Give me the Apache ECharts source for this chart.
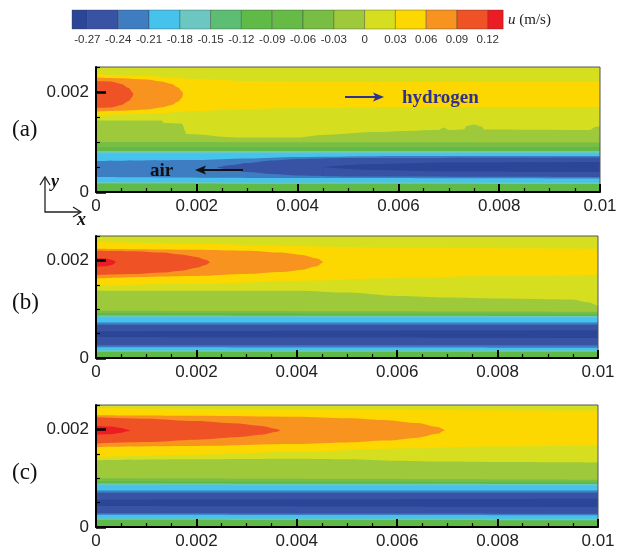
<!DOCTYPE html>
<html><head><meta charset="utf-8">
<script src="https://cdn.jsdelivr.net/npm/echarts@6/dist/echarts.min.js"></script>
<style>html,body{margin:0;padding:0;background:#fff}#c{width:618px;height:549px}</style>
</head><body><div id="c"></div>
<script>
// ---- colour levels of u (m/s) ----
const LEVEL_COLORS = ['#2b4597','#3852a4','#3e7dc2','#46c3ec','#6bc7bf','#5dbd73','#60ba48',
  '#66bb46','#78be44','#9dc93b','#d5df1f','#fcd700','#f7931e','#ef5224','#ec1c24'];
const CB_EDGES = [-0.285,-0.27,-0.24,-0.21,-0.18,-0.15,-0.12,-0.09,-0.06,-0.03,0,0.03,0.06,0.09,0.12,0.135];

// ---- contour-band boundaries (top edge of each region), [x (m), y (m)] ----
const FULL = [[0,0.0025],[0.01,0.0025]];
// panel (a)
const A_YEL_TOP = [[0,0.00236],[0.001,0.00232],[0.002,0.00226],[0.003,0.00222],[0.004,0.0022],[0.01,0.0022]];
const A_ORA_TOP = [[0,0.00229],[0.0005,0.002275],[0.001,0.00225],[0.0013,0.00221],[0.0015,0.00216],[0.00163,0.00209],[0.0017,0.00202],[0.00173,0.00195]];
const A_RED_TOP = [[0,0.00222],[0.0003,0.00221],[0.0005,0.00216],[0.00065,0.00208],[0.00072,0.002],[0.00074,0.00195]];
const A_RED_BOT = [[0,0.00168],[0.0003,0.00169],[0.0005,0.00174],[0.00065,0.00182],[0.00072,0.0019],[0.00074,0.00195],[0.00078,0.00197]];
const A_ORA_BOT = [[0,0.00161],[0.0005,0.001625],[0.001,0.00165],[0.0013,0.00169],[0.0015,0.00174],[0.00163,0.00181],[0.0017,0.00188],[0.00173,0.00195],[0.00177,0.00197]];
const A_YEL_BOT = [[0,0.00154],[0.001,0.00156],[0.002,0.00162],[0.003,0.00166],[0.004,0.00168],[0.006,0.0017],[0.01,0.0017]];
const A_LIME_BOT = [[0,0.00143],[0.0013,0.00143],[0.00135,0.00138],[0.0017,0.00137],[0.0018,0.00116],[0.0028,0.00109],[0.004,0.00109],[0.0045,0.00114],[0.0055,0.0012],[0.0068,0.00124],[0.0069,0.00129],[0.007,0.00124],[0.0073,0.00125],[0.00735,0.00132],[0.0075,0.00135],[0.00765,0.00131],[0.0077,0.00125],[0.0098,0.00124],[0.0099,0.0013],[0.01,0.00132]];
const A_YG_BOT = [[0,0.001],[0.01,0.00099]];
const A_G8_BOT = [[0,0.0009],[0.01,0.0009]];
const A_G6_BOT = [[0,0.00082],[0.01,0.00082]];
const A_TEAL_BOT = [[0,0.00077],[0.01,0.00078]];
const A_CYAN_BOT = [[0,0.00062],[0.002,0.00064],[0.003,0.00067],[0.004,0.0007],[0.006,0.00072],[0.01,0.00072]];
const A_DARK_TOP = [[0.0024,0.00049],[0.0027,0.00054],[0.003,0.00058],[0.0035,0.00063],[0.004,0.00066],[0.005,0.00068],[0.01,0.00069]];
const A_CORE_TOP = [[0.0045,0.0005],[0.0055,0.00056],[0.007,0.00059],[0.01,0.0006]];
const A_CORE_BOT = [[0.0045,0.0005],[0.0055,0.00044],[0.007,0.00041],[0.01,0.0004]];
const A_DARK_BOT = [[0.0024,0.00049],[0.0027,0.00044],[0.003,0.0004],[0.0035,0.00036],[0.004,0.00033],[0.005,0.00031],[0.01,0.0003]];
const A_BLUE_BOT = [[0,0.0003],[0.004,0.00028],[0.01,0.00027]];
const A_CYAN2_BOT = [[0,0.0002],[0.01,0.00019]];
const A_TEAL2_BOT = [[0,0.00017],[0.01,0.00016]];
// panel (b)
const B_YEL_TOP = [[0,0.00238],[0.002,0.00234],[0.004,0.00229],[0.006,0.00226],[0.01,0.00224]];
const B_ORA_TOP = [[0,0.00224],[0.002,0.00222],[0.003,0.0022],[0.0037,0.00216],[0.0041,0.00211],[0.0044,0.00204],[0.00453,0.00196]];
const B_RED_TOP = [[0,0.0022],[0.0008,0.00219],[0.0013,0.00216],[0.0017,0.00212],[0.002,0.00207],[0.0022,0.00201],[0.00227,0.00196]];
const B_HOT_TOP = [[0,0.00205],[0.0002,0.00204],[0.00033,0.00201],[0.0004,0.00196]];
const B_HOT_BOT = [[0,0.00187],[0.0002,0.00188],[0.00033,0.00191],[0.0004,0.00196],[0.00044,0.00198]];
const B_RED_BOT = [[0,0.0017],[0.0008,0.00172],[0.0013,0.00175],[0.0017,0.00179],[0.002,0.00185],[0.0022,0.00191],[0.00227,0.00196],[0.00231,0.00198]];
const B_ORA_BOT = [[0,0.00163],[0.002,0.00168],[0.003,0.00172],[0.0037,0.00176],[0.0041,0.00181],[0.0044,0.00188],[0.00453,0.00196],[0.00457,0.00198]];
const B_YEL_BOT = [[0,0.00148],[0.002,0.00152],[0.004,0.00158],[0.006,0.00164],[0.008,0.00168],[0.01,0.0017]];
const B_LIME_BOT = [[0,0.00138],[0.004,0.00138],[0.005,0.00134],[0.006,0.00127],[0.007,0.00124],[0.008,0.00122],[0.0095,0.0012],[0.0098,0.00114],[0.01,0.00106]];
const B_YG_BOT = [[0,0.00097],[0.01,0.00095]];
const B_G8_BOT = [[0,0.00092],[0.01,0.0009]];
const B_G6_BOT = [[0,0.00087],[0.01,0.00086]];
const B_TEAL_BOT = [[0,0.00084],[0.01,0.00083]];
const B_CYAN_BOT = [[0,0.00073],[0.01,0.00073]];
const B_BLUE_BOT = [[0,0.00068],[0.01,0.00068]];
const B_CORE_TOP = [[0,0.00055],[0.01,0.00057]];
const B_CORE_BOT = [[0,0.00043],[0.01,0.00041]];
const B_DARK_BOT = [[0,0.00026],[0.01,0.00026]];
const B_BLUE2_BOT = [[0,0.00022],[0.01,0.00021]];
const B_CYAN2_BOT = [[0,0.00016],[0.01,0.00016]];
const B_TEAL2_BOT = [[0,0.00013],[0.01,0.00013]];
// panel (c)
const C_YEL_TOP = [[0,0.00244],[0.004,0.00241],[0.01,0.00238]];
const C_ORA_TOP = [[0,0.00229],[0.002,0.00228],[0.004,0.00226],[0.005,0.00223],[0.0058,0.00219],[0.0064,0.00213],[0.0068,0.00205],[0.00695,0.00198]];
const C_RED_TOP = [[0,0.00225],[0.001,0.00222],[0.002,0.00217],[0.0028,0.00212],[0.0033,0.00207],[0.0036,0.00201],[0.00367,0.00198]];
const C_HOT_TOP = [[0,0.00207],[0.0003,0.00206],[0.0005,0.00203],[0.00062,0.002],[0.00068,0.00198]];
const C_HOT_BOT = [[0,0.00189],[0.0003,0.0019],[0.0005,0.00193],[0.00062,0.00196],[0.00068,0.00198],[0.00072,0.002]];
const C_RED_BOT = [[0,0.00171],[0.001,0.00174],[0.002,0.00179],[0.0028,0.00184],[0.0033,0.00189],[0.0036,0.00195],[0.00367,0.00198],[0.00371,0.002]];
const C_ORA_BOT = [[0,0.00164],[0.002,0.00166],[0.004,0.0017],[0.005,0.00173],[0.0058,0.00177],[0.0064,0.00183],[0.0068,0.00191],[0.00695,0.00198],[0.00699,0.002]];
const C_YEL_BOT = [[0,0.00143],[0.002,0.00148],[0.004,0.00154],[0.006,0.00161],[0.008,0.00165],[0.01,0.00167]];
const C_LIME_BOT = [[0,0.00137],[0.002,0.00139],[0.004,0.0014],[0.005,0.00139],[0.006,0.00136],[0.007,0.00134],[0.008,0.00133],[0.01,0.00132]];
const C_YG_BOT = [[0,0.001],[0.01,0.00097]];
const C_G8_BOT = [[0,0.00094],[0.01,0.00092]];
const C_G6_BOT = [[0,0.00089],[0.01,0.00088]];
const C_TEAL_BOT = [[0,0.00086],[0.01,0.00085]];
const C_CYAN_BOT = [[0,0.00075],[0.01,0.00075]];
const C_BLUE_BOT = [[0,0.0007],[0.01,0.0007]];
const C_CORE_TOP = [[0,0.00056],[0.01,0.00058]];
const C_CORE_BOT = [[0,0.00043],[0.01,0.00041]];
const C_DARK_BOT = [[0,0.00028],[0.01,0.00027]];
const C_BLUE2_BOT = [[0,0.00025],[0.01,0.00024]];
const C_CYAN2_BOT = [[0,0.00018],[0.01,0.00017]];
const C_TEAL2_BOT = [[0,0.00015],[0.01,0.00014]];

// regions painted top-down: [level index, top boundary]
const REGIONS_A = [[10,FULL],[11,A_YEL_TOP],[12,A_ORA_TOP],[13,A_RED_TOP],[12,A_RED_BOT],[11,A_ORA_BOT],[10,A_YEL_BOT],
  [9,A_LIME_BOT],[8,A_YG_BOT],[6,A_G8_BOT],[4,A_G6_BOT],[3,A_TEAL_BOT],[2,A_CYAN_BOT],[1,A_DARK_TOP],[0,A_CORE_TOP],
  [1,A_CORE_BOT],[2,A_DARK_BOT],[3,A_BLUE_BOT],[4,A_CYAN2_BOT],[6,A_TEAL2_BOT]];
const REGIONS_B = [[10,FULL],[11,B_YEL_TOP],[12,B_ORA_TOP],[13,B_RED_TOP],[14,B_HOT_TOP],[13,B_HOT_BOT],[12,B_RED_BOT],
  [11,B_ORA_BOT],[10,B_YEL_BOT],[9,B_LIME_BOT],[8,B_YG_BOT],[6,B_G8_BOT],[4,B_G6_BOT],[3,B_TEAL_BOT],[2,B_CYAN_BOT],
  [1,B_BLUE_BOT],[0,B_CORE_TOP],[1,B_CORE_BOT],[2,B_DARK_BOT],[3,B_BLUE2_BOT],[4,B_CYAN2_BOT],[6,B_TEAL2_BOT]];
const REGIONS_C = [[10,FULL],[11,C_YEL_TOP],[12,C_ORA_TOP],[13,C_RED_TOP],[14,C_HOT_TOP],[13,C_HOT_BOT],[12,C_RED_BOT],
  [11,C_ORA_BOT],[10,C_YEL_BOT],[9,C_LIME_BOT],[8,C_YG_BOT],[6,C_G8_BOT],[4,C_G6_BOT],[3,C_TEAL_BOT],[2,C_CYAN_BOT],
  [1,C_BLUE_BOT],[0,C_CORE_TOP],[1,C_CORE_BOT],[2,C_DARK_BOT],[3,C_BLUE2_BOT],[4,C_CYAN2_BOT],[6,C_TEAL2_BOT]];

const SANS = "'Liberation Sans', Arial, sans-serif";
const SERIF = "'Liberation Serif', 'Times New Roman', serif";

const chart = echarts.init(document.getElementById('c'), null, {renderer:'canvas'});

const panelGrids = [
  {left:96, top:67, width:504, height:125},
  {left:96, top:236, width:502, height:122},
  {left:96, top:405, width:502, height:122}
];
const grids = [{left:56.6, top:10, width:462, height:19, show:false, containLabel:false, outerBoundsMode:'none'}]
  .concat(panelGrids.map(g => Object.assign({show:true, borderColor:'#555', borderWidth:1, z:10,
    containLabel:false, outerBoundsMode:'none'}, g)));

const xAxes = [{
  gridIndex:0, type:'value', min:-0.3, max:0.15, interval:0.03,
  axisLine:{show:false}, axisTick:{show:false}, splitLine:{show:false},
  axisLabel:{showMinLabel:false, showMaxLabel:false, fontSize:11.5, color:'#333', fontFamily:SANS, margin:5,
    formatter: v => String(Math.round(v*100)/100)}
}];
const yAxes = [{gridIndex:0, type:'value', min:0, max:1, show:false}];
panelGrids.forEach((g, i) => {
  xAxes.push({
    gridIndex:i+1, type:'value', position:'bottom', min:0, max:0.01, interval:0.002, z:10,
    axisLine:{show:true, lineStyle:{color:'#000', width:2}},
    axisTick:{show:true, inside:true, length:8, lineStyle:{color:'#000', width:2}},
    minorTick:{show:true, splitNumber:4, length:4, lineStyle:{color:'#000', width:1.2}},
    splitLine:{show:false},
    axisLabel:{fontSize:17, color:'#222', fontFamily:SANS, margin:6,
      formatter: v => String(Math.round(v*1000)/1000)}
  });
  yAxes.push({
    gridIndex:i+1, type:'value', position:'left', min:0, max:0.0025, interval:0.0005, z:10,
    axisLine:{show:true, lineStyle:{color:'#000', width:2}},
    axisTick:{show:true, inside:true, length:4, lineStyle:{color:'#000', width:1.2}},
    splitLine:{show:false}, axisLabel:{show:false}
  });
});
panelGrids.forEach((g, i) => {
  yAxes.push({
    gridIndex:i+1, type:'value', position:'left', offset:0, min:0, max:0.0025, interval:0.002, z:11,
    axisLine:{show:false},
    axisTick:{show:true, inside:true, length:10, lineStyle:{color:'#000', width:2.5}},
    splitLine:{show:false},
    axisLabel:{showMaxLabel:false, fontSize:17, color:'#222', fontFamily:SANS, margin:7,
      formatter: v => String(Math.round(v*1000)/1000)}
  });
});

const series = [];
// colour bar
const cbCells = [];
for (let i = 0; i < CB_EDGES.length - 1; i++) cbCells.push([CB_EDGES[i], CB_EDGES[i+1], i]);
series.push({
  type:'custom', xAxisIndex:0, yAxisIndex:0, silent:true, animation:false,
  data: cbCells,
  renderItem: (params, api) => {
    const p0 = api.coord([api.value(0), 1]);
    const p1 = api.coord([api.value(1), 0]);
    return {type:'rect', shape:{x:p0[0], y:p0[1], width:p1[0]-p0[0], height:p1[1]-p0[1]},
      style:{fill: LEVEL_COLORS[api.value(2)], stroke:'rgba(50,50,60,0.45)', lineWidth:0.8}};
  }
});
[REGIONS_A, REGIONS_B, REGIONS_C].forEach((regions, pi) => {
  regions.forEach(([lvl, pts]) => {
    series.push({
      type:'line', xAxisIndex:pi+1, yAxisIndex:pi+1, data:pts, symbol:'none',
      smooth:0.3, smoothMonotone:'x', silent:true, animation:false, clip:true,
      lineStyle:{width:0, color:LEVEL_COLORS[lvl]},
      itemStyle:{color:LEVEL_COLORS[lvl]},
      areaStyle:{color:LEVEL_COLORS[lvl], opacity:1, origin:'start'},
      z:2
    });
  });
});

const graphic = [
  {type:'text', x:508, y:20, style:{text:'{i|u} (m/s)', font:'15px '+SERIF, fill:'#222', verticalAlign:'middle',
    rich:{i:{fontStyle:'italic', fontFamily:SERIF, fontSize:15, fill:'#222'}}}},
  {type:'text', x:12, y:130, style:{text:'(a)', font:'23px '+SERIF, fill:'#111', verticalAlign:'middle'}},
  {type:'text', x:12, y:303, style:{text:'(b)', font:'23px '+SERIF, fill:'#111', verticalAlign:'middle'}},
  {type:'text', x:12, y:473, style:{text:'(c)', font:'23px '+SERIF, fill:'#111', verticalAlign:'middle'}},
  {type:'line', shape:{x1:345, y1:97, x2:378, y2:97}, style:{stroke:'#2e3192', lineWidth:2}, z:20},
  {type:'polygon', shape:{points:[[384,97],[373,92.5],[375.5,97],[373,101.5]]}, style:{fill:'#2e3192'}, z:20},
  {type:'text', x:402, y:98, z:20, style:{text:'hydrogen', font:'bold 19px '+SERIF, fill:'#2e3192', verticalAlign:'middle'}},
  {type:'text', x:150, y:171, z:20, style:{text:'air', font:'bold 19px '+SERIF, fill:'#111', verticalAlign:'middle'}},
  {type:'line', shape:{x1:243, y1:170, x2:202, y2:170}, style:{stroke:'#111', lineWidth:2}, z:20},
  {type:'polygon', shape:{points:[[195,170],[206,165.5],[203.5,170],[206,174.5]]}, style:{fill:'#111'}, z:20},
  {type:'polyline', shape:{points:[[45,178],[45,212],[80,212]]}, style:{stroke:'#222', lineWidth:1.3, fill:null}},
  {type:'polyline', shape:{points:[[40,185],[45,177],[50,185]]}, style:{stroke:'#222', lineWidth:1.3, fill:null}},
  {type:'polyline', shape:{points:[[73,207],[81,212],[73,217]]}, style:{stroke:'#222', lineWidth:1.3, fill:null}},
  {type:'text', x:51, y:182, style:{text:'y', font:'italic bold 18px '+SERIF, fill:'#111', verticalAlign:'middle'}},
  {type:'text', x:77, y:220, style:{text:'x', font:'italic bold 18px '+SERIF, fill:'#111', verticalAlign:'middle'}}
];

chart.setOption({
  animation:false,
  backgroundColor:'#fff',
  grid: grids, xAxis: xAxes, yAxis: yAxes, series: series, graphic: graphic
});
</script></body></html>
